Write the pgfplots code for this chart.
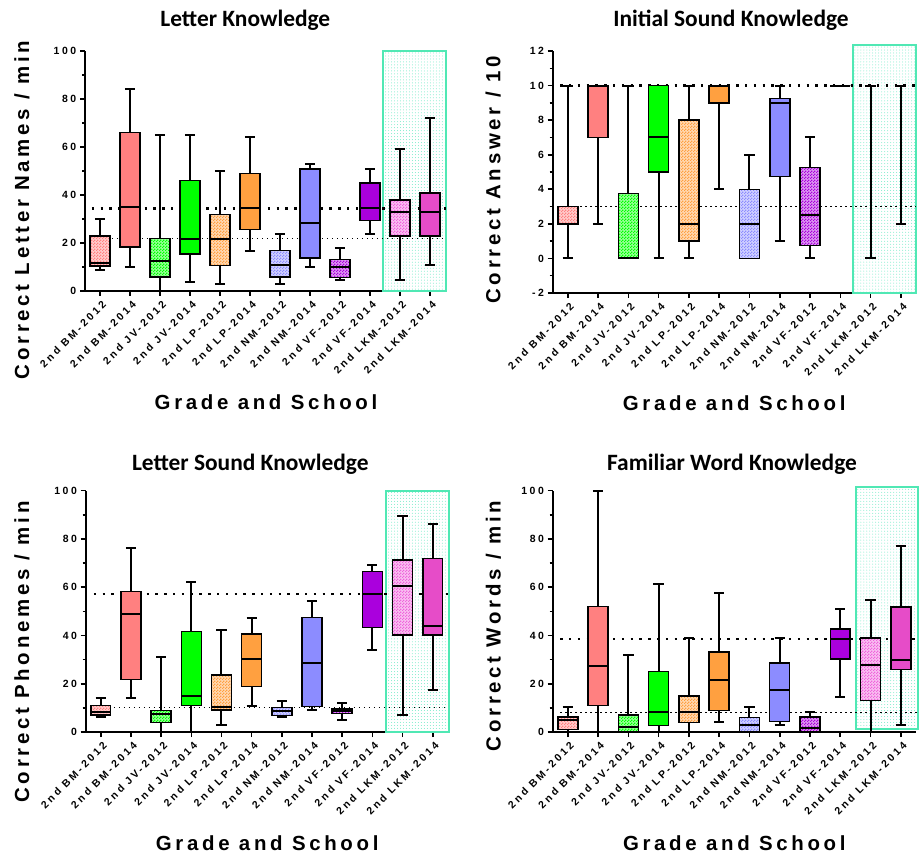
\documentclass[border=0pt]{standalone}
\usepackage{fontspec}
\setmainfont{Liberation Sans}
\usepackage{pgfplots}
\pgfplotsset{compat=1.18}
\usepgfplotslibrary{statistics}
\usetikzlibrary{patterns}

\newfontfamily\tickfam[LetterSpace=25]{Liberation Sans}
\newfontfamily\labfam[LetterSpace=18]{Liberation Sans}
\newfontfamily\titlefam{Carlito}
\newcommand\tickfont{\tickfam\bfseries\fontsize{10.5}{12}\selectfont}
\newcommand\labfont{\labfam\bfseries\fontsize{20.5}{23}\selectfont}
\newcommand\titlefont{\titlefam\bfseries\fontsize{23.5}{26}\selectfont}

% checkerboard used for the 2012 boxes
\pgfdeclarepatternformonly{checker}{\pgfpointorigin}{\pgfqpoint{3bp}{3bp}}{\pgfqpoint{3bp}{3bp}}{%
  \pgfpathrectangle{\pgfpointorigin}{\pgfqpoint{1.5bp}{1.5bp}}%
  \pgfpathrectangle{\pgfqpoint{1.5bp}{1.5bp}}{\pgfqpoint{1.5bp}{1.5bp}}%
  \pgfusepath{fill}}

\definecolor{cBM}{RGB}{255,128,128}
\definecolor{cJV}{RGB}{0,255,0}
\definecolor{cLP}{RGB}{255,160,64}
\definecolor{cNM}{RGB}{140,140,255}
\definecolor{cVF}{RGB}{170,0,221}
\definecolor{cLK}{RGB}{230,76,200}
\definecolor{cLKl}{RGB}{240,100,220}
\definecolor{tealB}{RGB}{80,232,180}
\definecolor{tealL}{RGB}{120,235,200}

\pgfplotsset{
  boxbase/.style={black, line width=1.5bp,
    boxplot/draw direction=y,
    boxplot/box extend=0.66, boxplot/whisker extend=0.34,
    boxplot/every whisker/.style={line width=2bp},
    boxplot/every median/.style={line width=2bp}},
  b14/.style={boxbase, boxplot/every box/.style={fill=#1}},
  b12/.style={boxbase, boxplot/every box/.style={fill=#1!40,
    postaction={pattern=checker, pattern color=#1}}},
  bnone/.style={boxbase, boxplot/every box/.style={draw=none, fill=none},
    boxplot/every median/.style={draw=none}},
  hiline/.style={black, line width=2.4bp, dash pattern=on 2.4bp off 6.4bp, forget plot},
  loline/.style={black, line width=1.4bp, dash pattern=on 1.4bp off 3.6bp, forget plot},
  focus/.style={draw=tealB, line width=2bp, pattern=dots, pattern color=tealL},
  panel/.style={
    scale only axis, anchor=south west, clip=false,
    axis x line*=bottom, axis y line*=left,
    axis line style={line width=2.3bp, -},
    xmin=-0.5, xtick={0,...,11},
    xticklabels={2nd BM-2012, 2nd BM-2014, 2nd JV-2012, 2nd JV-2014,
      2nd LP-2012, 2nd LP-2014, 2nd NM-2012, 2nd NM-2014,
      2nd VF-2012, 2nd VF-2014, 2nd LKM-2012, 2nd LKM-2014},
    x tick label style={rotate=45, anchor=east, font=\tickfont, inner sep=1bp,
      yshift=-8bp, xshift=-1bp},
    y tick label style={font=\tickfont, inner sep=3.5bp},
    /pgf/number format/assume math mode=true,
    tick align=outside, major tick length=5bp, minor tick length=3bp,
    tick style={black, line width=1.6bp},
    minor tick style={black, line width=1.4bp},
    minor y tick num=1,
    xlabel={Grade and School},
    every axis x label/.style={at={(axis description cs:0.5,#1)}, anchor=center, font=\labfont},
    title style={font=\titlefont, anchor=center},
  },
}

\begin{document}
\begin{tikzpicture}
\path[use as bounding box] (0bp,0bp) rectangle (920bp,854bp);

% ---------------- Letter Knowledge ----------------
\begin{axis}[panel=-0.4625, at={(85bp,563bp)}, width=362bp, height=240bp,
  xmax=11.57, ymin=0, ymax=100, ytick={0,20,...,100},
  title={Letter Knowledge},
  title style={at={(axis description cs:0.443,1.104)}},
  ylabel={Correct Letter Names / min},
  every axis y label/.style={at={(axis description cs:-0.174,0.3375)}, rotate=90, anchor=center, font=\labfont}]
\addplot[focus] coordinates {(9.43,0) (9.43,100) (11.53,100) (11.53,0)} -- cycle;
\addplot[hiline] coordinates {(-0.27,34.4) (11.53,34.4)};
\addplot[loline] coordinates {(-0.27,21.9) (11.53,21.9)};
\addplot[b12=cBM, boxplot prepared={draw position=0, lower whisker=8.8, lower quartile=10.5, median=11.5, upper quartile=23, upper whisker=30}] coordinates {};
\addplot[b14=cBM, boxplot prepared={draw position=1, lower whisker=10.1, lower quartile=18.3, median=35, upper quartile=66.1, upper whisker=84.2}] coordinates {};
\addplot[b12=cJV, boxplot prepared={draw position=2, lower whisker=0, lower quartile=5.8, median=12.6, upper quartile=21.8, upper whisker=65}] coordinates {};
\addplot[b14=cJV, boxplot prepared={draw position=3, lower whisker=3.8, lower quartile=15.4, median=21.7, upper quartile=46.1, upper whisker=65}] coordinates {};
\addplot[b12=cLP, boxplot prepared={draw position=4, lower whisker=2.9, lower quartile=10.6, median=21.7, upper quartile=31.9, upper whisker=50}] coordinates {};
\addplot[b14=cLP, boxplot prepared={draw position=5, lower whisker=16.8, lower quartile=25.7, median=34.6, upper quartile=48.9, upper whisker=64.3}] coordinates {};
\addplot[b12=cNM, boxplot prepared={draw position=6, lower whisker=2.9, lower quartile=5.8, median=11, upper quartile=16.9, upper whisker=23.8}] coordinates {};
\addplot[b14=cNM, boxplot prepared={draw position=7, lower whisker=10.1, lower quartile=13.8, median=28.5, upper quartile=50.8, upper whisker=52.9}] coordinates {};
\addplot[b12=cVF, boxplot prepared={draw position=8, lower whisker=4.6, lower quartile=5.6, median=10.1, upper quartile=13.2, upper whisker=17.9}] coordinates {};
\addplot[b14=cVF, boxplot prepared={draw position=9, lower whisker=23.8, lower quartile=29.4, median=34.6, upper quartile=45, upper whisker=50.8}] coordinates {};
\addplot[b12=cLKl, boxplot prepared={draw position=10, lower whisker=4.7, lower quartile=22.9, median=33, upper quartile=37.9, upper whisker=59.2}] coordinates {};
\addplot[b14=cLK, boxplot prepared={draw position=11, lower whisker=10.8, lower quartile=22.9, median=33, upper quartile=40.8, upper whisker=72.1}] coordinates {};
\end{axis}

% ---------------- Initial Sound Knowledge ----------------
\begin{axis}[panel=-0.4545, at={(552.7bp,561bp)}, width=363bp, height=242bp,
  xmax=11.49, ymin=-2, ymax=12, ytick={-2,0,...,12},
  title={Initial Sound Knowledge},
  title style={at={(axis description cs:0.491,1.103)}},
  ylabel={Correct Answer / 10},
  every axis y label/.style={at={(axis description cs:-0.164,0.467)}, rotate=90, anchor=center, font=\labfont}]
\addplot[focus] coordinates {(9.42,-2) (9.42,12.35) (11.49,12.35) (11.49,-2)} -- cycle;
\addplot[hiline] coordinates {(-0.25,10) (11.49,10)};
\addplot[loline] coordinates {(-0.25,3) (11.49,3)};
\addplot[b12=cBM, boxplot prepared={draw position=0, lower whisker=0, lower quartile=2, median=2, upper quartile=3, upper whisker=10}] coordinates {};
\addplot[b14=cBM, boxplot prepared={draw position=1, lower whisker=2, lower quartile=7, median=10, upper quartile=10, upper whisker=10}] coordinates {};
\addplot[b12=cJV, boxplot prepared={draw position=2, lower whisker=0, lower quartile=0, median=0, upper quartile=3.75, upper whisker=10}] coordinates {};
\addplot[b14=cJV, boxplot prepared={draw position=3, lower whisker=0, lower quartile=5, median=7, upper quartile=10, upper whisker=10}] coordinates {};
\addplot[b12=cLP, boxplot prepared={draw position=4, lower whisker=0, lower quartile=1, median=2, upper quartile=8, upper whisker=10}] coordinates {};
\addplot[b14=cLP, boxplot prepared={draw position=5, lower whisker=4, lower quartile=9, median=10, upper quartile=10, upper whisker=10}] coordinates {};
\addplot[b12=cNM, boxplot prepared={draw position=6, lower whisker=0, lower quartile=0, median=2, upper quartile=4, upper whisker=6}] coordinates {};
\addplot[b14=cNM, boxplot prepared={draw position=7, lower whisker=1, lower quartile=4.75, median=9, upper quartile=9.25, upper whisker=10}] coordinates {};
\addplot[b12=cVF, boxplot prepared={draw position=8, lower whisker=0, lower quartile=0.75, median=2.5, upper quartile=5.25, upper whisker=7}] coordinates {};
\addplot[b14=cVF, boxplot prepared={draw position=9, lower whisker=10, lower quartile=10, median=10, upper quartile=10, upper whisker=10}] coordinates {};
\addplot[bnone, boxplot prepared={draw position=10, lower whisker=0, lower quartile=5, median=5, upper quartile=5, upper whisker=10}] coordinates {};
\addplot[bnone, boxplot prepared={draw position=11, lower whisker=2, lower quartile=6, median=6, upper quartile=6, upper whisker=10}] coordinates {};
\end{axis}

% ---------------- Letter Sound Knowledge ----------------
\begin{axis}[panel=-0.46, at={(85.7bp,122bp)}, width=363bp, height=241.3bp,
  xmax=11.53, ymin=0, ymax=100, ytick={0,20,...,100},
  title={Letter Sound Knowledge},
  title style={at={(axis description cs:0.4535,1.086)}},
  ylabel={Correct Phonemes / min},
  every axis y label/.style={at={(axis description cs:-0.176,0.3315)}, rotate=90, anchor=center, font=\labfont}]
\addplot[focus] coordinates {(9.44,0) (9.44,100) (11.53,100) (11.53,0)} -- cycle;
\addplot[hiline] coordinates {(-0.23,57.2) (11.53,57.2)};
\addplot[loline] coordinates {(-0.23,10.2) (11.53,10.2)};
\addplot[b12=cBM, boxplot prepared={draw position=0, lower whisker=6.1, lower quartile=7, median=8.1, upper quartile=11, upper whisker=13.9}] coordinates {};
\addplot[b14=cBM, boxplot prepared={draw position=1, lower whisker=13.9, lower quartile=21.7, median=49.1, upper quartile=58.2, upper whisker=76.3}] coordinates {};
\addplot[b12=cJV, boxplot prepared={draw position=2, lower whisker=0, lower quartile=4, median=7.6, upper quartile=9, upper whisker=31.2}] coordinates {};
\addplot[b14=cJV, boxplot prepared={draw position=3, lower whisker=0, lower quartile=11, median=15, upper quartile=41.7, upper whisker=62.2}] coordinates {};
\addplot[b12=cLP, boxplot prepared={draw position=4, lower whisker=3, lower quartile=9.1, median=10.2, upper quartile=23.6, upper whisker=42.3}] coordinates {};
\addplot[b14=cLP, boxplot prepared={draw position=5, lower whisker=10.9, lower quartile=18.9, median=30.3, upper quartile=40.6, upper whisker=47.3}] coordinates {};
\addplot[b12=cNM, boxplot prepared={draw position=6, lower whisker=6.1, lower quartile=6.8, median=8.6, upper quartile=10.2, upper whisker=13}] coordinates {};
\addplot[b14=cNM, boxplot prepared={draw position=7, lower whisker=9, lower quartile=10.6, median=28.8, upper quartile=47.4, upper whisker=54.3}] coordinates {};
\addplot[b12=cVF, boxplot prepared={draw position=8, lower whisker=5.1, lower quartile=7.7, median=8.6, upper quartile=9.5, upper whisker=12.1}] coordinates {};
\addplot[b14=cVF, boxplot prepared={draw position=9, lower whisker=34.1, lower quartile=43.3, median=57.2, upper quartile=66.6, upper whisker=69.2}] coordinates {};
\addplot[b12=cLKl, boxplot prepared={draw position=10, lower whisker=7.2, lower quartile=40.1, median=60.3, upper quartile=71.3, upper whisker=89.5}] coordinates {};
\addplot[b14=cLK, boxplot prepared={draw position=11, lower whisker=17.2, lower quartile=40.1, median=44.1, upper quartile=71.9, upper whisker=86.2}] coordinates {};
\end{axis}

% ---------------- Familiar Word Knowledge ----------------
\begin{axis}[panel=-0.46, at={(552.7bp,122bp)}, width=363.2bp, height=241.3bp,
  xmax=11.5, ymin=0, ymax=100, ytick={0,20,...,100},
  title={Familiar Word Knowledge},
  title style={at={(axis description cs:0.4936,1.086)}},
  ylabel={Correct Words / min},
  every axis y label/.style={at={(axis description cs:-0.163,0.439)}, rotate=90, anchor=center, font=\labfont}]
\addplot[focus] coordinates {(9.51,1.2) (9.51,101.5) (11.58,101.5) (11.58,1.2)} -- cycle;
\addplot[hiline] coordinates {(-0.25,38.6) (11.58,38.6)};
\addplot[loline] coordinates {(-0.25,8.1) (11.58,8.1)};
\addplot[b12=cBM, boxplot prepared={draw position=0, lower whisker=0, lower quartile=1, median=5, upper quartile=6.2, upper whisker=10.2}] coordinates {};
\addplot[b14=cBM, boxplot prepared={draw position=1, lower whisker=0, lower quartile=11, median=27.2, upper quartile=52.1, upper whisker=100}] coordinates {};
\addplot[b12=cJV, boxplot prepared={draw position=2, lower whisker=0, lower quartile=0, median=2.1, upper quartile=7, upper whisker=32}] coordinates {};
\addplot[b14=cJV, boxplot prepared={draw position=3, lower whisker=0, lower quartile=2.6, median=8.1, upper quartile=25.1, upper whisker=61.4}] coordinates {};
\addplot[b12=cLP, boxplot prepared={draw position=4, lower whisker=0, lower quartile=4, median=8.1, upper quartile=15, upper whisker=39}] coordinates {};
\addplot[b14=cLP, boxplot prepared={draw position=5, lower whisker=4, lower quartile=9, median=21.7, upper quartile=33.1, upper whisker=57.7}] coordinates {};
\addplot[b12=cNM, boxplot prepared={draw position=6, lower whisker=0, lower quartile=0, median=3, upper quartile=6.1, upper whisker=10.2}] coordinates {};
\addplot[b14=cNM, boxplot prepared={draw position=7, lower whisker=3, lower quartile=4.4, median=17.2, upper quartile=28.6, upper whisker=39}] coordinates {};
\addplot[b12=cVF, boxplot prepared={draw position=8, lower whisker=0, lower quartile=0, median=1.5, upper quartile=6.2, upper whisker=8.1}] coordinates {};
\addplot[b14=cVF, boxplot prepared={draw position=9, lower whisker=14.3, lower quartile=30.3, median=38.6, upper quartile=42.6, upper whisker=51}] coordinates {};
\addplot[b12=cLKl, boxplot prepared={draw position=10, lower whisker=0, lower quartile=13.1, median=27.9, upper quartile=39, upper whisker=54.8}] coordinates {};
\addplot[b14=cLK, boxplot prepared={draw position=11, lower whisker=3, lower quartile=25.8, median=29.9, upper quartile=51.7, upper whisker=77.1}] coordinates {};
\end{axis}
\end{tikzpicture}
\end{document}
